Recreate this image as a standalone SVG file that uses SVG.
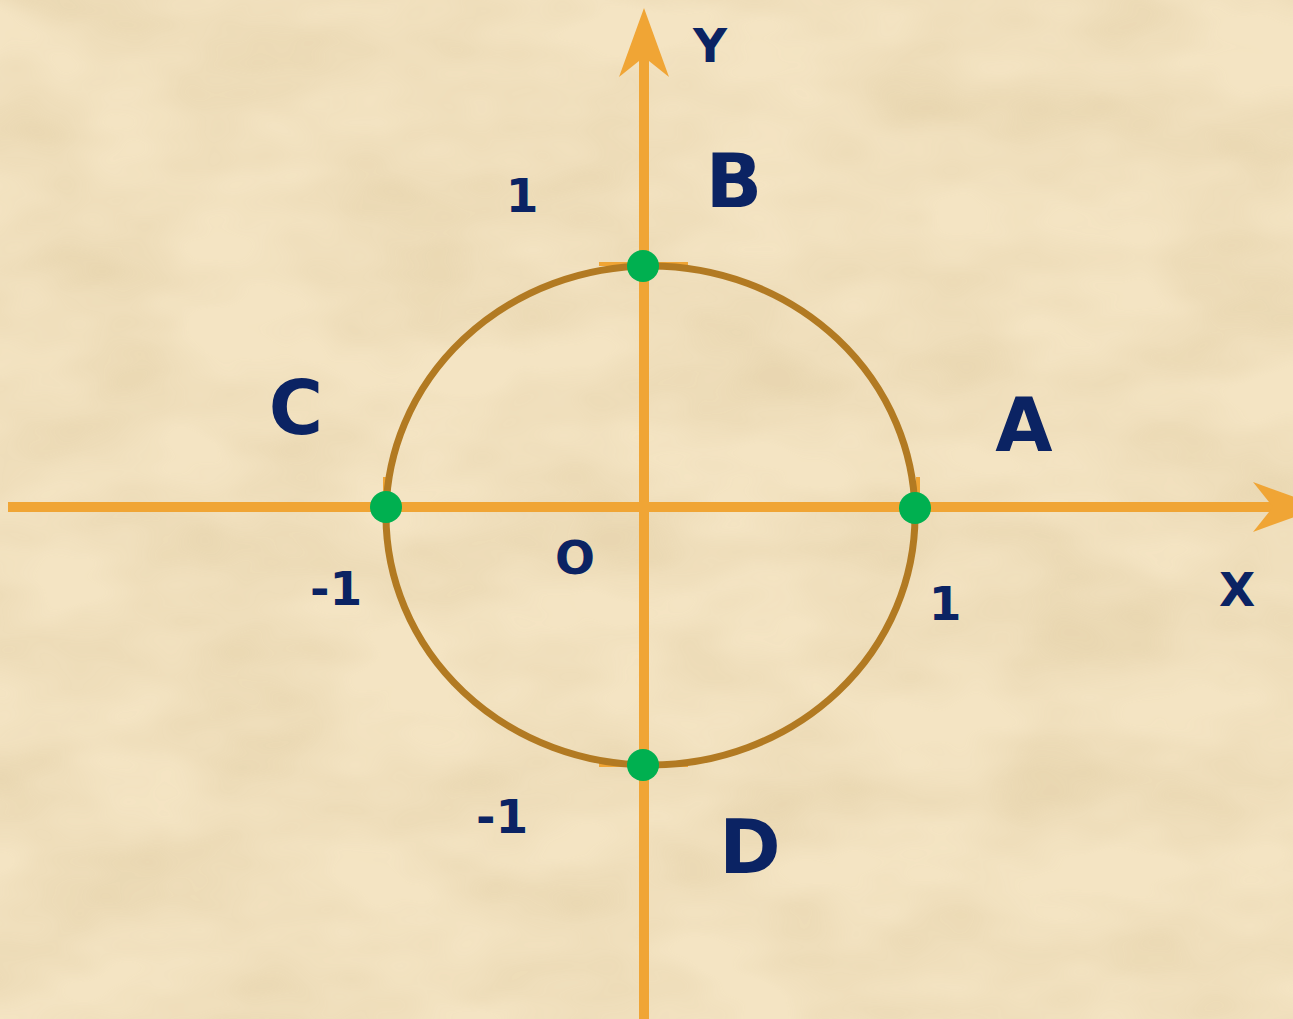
<svg xmlns="http://www.w3.org/2000/svg" width="1293" height="1019" viewBox="0 0 1293 1019">
  <defs>
    <style>
      .axis { stroke: #F0A535; stroke-width: 10; fill: none; }
      .stub { stroke: #F0A535; stroke-width: 4; fill: none; }
      .circle { stroke: #B27A22; stroke-width: 7; fill: none; }
      .dot { fill: #00B050; }
      .lbl { font-family: "DejaVu Sans", Verdana, sans-serif; font-weight: bold; fill: #0B2363; text-anchor: middle; }
      .big { font-size: 74px; }
      .small { font-size: 47px; }
    </style>
    <marker id="arrow" viewBox="0 0 69 50" markerUnits="userSpaceOnUse" markerWidth="69" markerHeight="50" refX="20" refY="25" orient="auto">
      <path d="M0,0 L69,25 L0,50 L20,25 Z" fill="#F0A535"/>
    </marker>
    <filter id="paper" x="0" y="0" width="100%" height="100%">
      <feTurbulence type="fractalNoise" baseFrequency="0.006 0.012" numOctaves="3" seed="7" result="n"/>
      <feColorMatrix type="matrix" values="0 0 0 0 0.78  0 0 0 0 0.64  0 0 0 0 0.40  0 0 0 1.8 -0.55"/>
    </filter>
  </defs>
  <rect x="0" y="0" width="1293" height="1019" fill="#F4E4C3"/>
  <rect x="0" y="0" width="1293" height="1019" filter="url(#paper)" opacity="0.7"/>

  <g id="connectors">
    <line class="axis" x1="8" y1="507" x2="1273" y2="507" marker-end="url(#arrow)"/>
    <line class="axis" x1="644" y1="1019" x2="644" y2="57" marker-end="url(#arrow)"/>
    <line class="stub" x1="599" y1="264" x2="688" y2="264"/>
    <line class="stub" x1="599" y1="765" x2="688" y2="765"/>
    <line class="stub" x1="385" y1="477" x2="385" y2="505"/>
    <line class="stub" x1="918" y1="477" x2="918" y2="505"/>
  </g>

  <g id="unit-circle">
    <ellipse class="circle" cx="650.5" cy="515.5" rx="264.5" ry="249.5"/>
  </g>

  <g id="point-A"><circle class="dot" cx="915" cy="508" r="16"/><text class="lbl big" x="1024" y="451">A</text></g>
  <g id="point-B"><circle class="dot" cx="643" cy="266" r="16"/><text class="lbl big" x="734" y="207">B</text></g>
  <g id="point-C"><circle class="dot" cx="386" cy="507" r="16"/><text class="lbl big" x="296" y="434">C</text></g>
  <g id="point-D"><circle class="dot" cx="643" cy="765" r="16"/><text class="lbl big" x="750" y="873">D</text></g>

  <g id="labels">
    <text class="lbl small" x="710" y="62">Y</text>
    <text class="lbl small" x="1237" y="606">X</text>
    <text class="lbl small" x="575" y="574">O</text>
    <text class="lbl small" x="522" y="212">1</text>
    <text class="lbl small" x="945" y="620">1</text>
    <text class="lbl small" x="336" y="605">-1</text>
    <text class="lbl small" x="502" y="833">-1</text>
  </g>
</svg>
